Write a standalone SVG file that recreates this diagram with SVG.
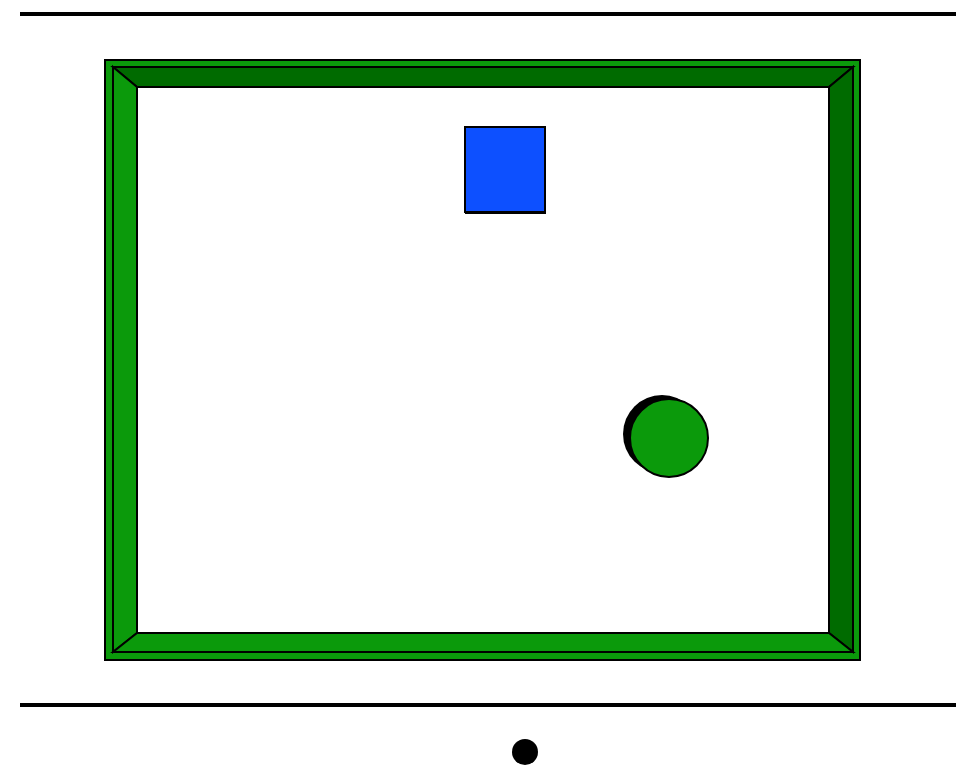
<svg xmlns="http://www.w3.org/2000/svg" width="956" height="779" viewBox="0 0 956 779">
<style>
.edge{stroke:#000;stroke-width:2;stroke-linejoin:miter}
.light{fill:#0b9a0b}
.dark{fill:#006b00}
</style>
<rect width="956" height="779" fill="#fff"/>
<line x1="20" y1="14" x2="956" y2="14" stroke="#000" stroke-width="4"/>
<line x1="20" y1="705" x2="956" y2="705" stroke="#000" stroke-width="4"/>
<g id="frame">
  <rect x="105" y="60" width="755" height="600" class="light edge"/>
  <polygon points="113,67 853,67 829,87 137,87" class="dark edge"/>
  <polygon points="853,67 853,652 829,633 829,87" class="dark edge"/>
  <polygon points="113,67 137,87 137,633 113,652" class="light edge"/>
  <polygon points="113,652 137,633 829,633 853,652" class="light edge"/>
  <rect x="137" y="87" width="692" height="546" fill="#fff" class="edge"/>
</g>
<g id="square">
  <rect x="465" y="129" width="81" height="85" fill="#000"/>
  <rect x="465" y="127" width="80" height="85" fill="#0d50ff" stroke="#000" stroke-width="2"/>
</g>
<g id="ball">
  <circle cx="662" cy="434" r="39" fill="#000"/>
  <circle cx="669" cy="438" r="39" fill="#0b9a0b" stroke="#000" stroke-width="2"/>
</g>
<circle id="dot" cx="525" cy="752" r="13" fill="#000"/>
</svg>
